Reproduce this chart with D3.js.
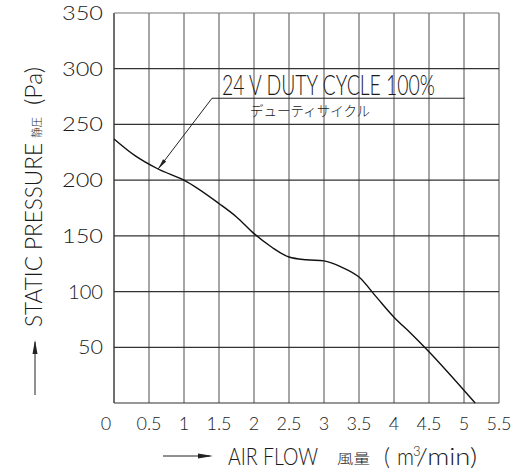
<!DOCTYPE html>
<html>
<head>
<meta charset="utf-8">
<script src="https://cdn.jsdelivr.net/npm/d3@7"></script>
<style>
  body { margin: 0; background: #fff; }
  svg { display: block; }
  text { font-family: "Lato", "DejaVu Sans Condensed", sans-serif; font-weight: 300; fill: #1a1a1a; }
  .jp { font-family: "Noto Sans CJK JP", sans-serif; font-weight: 300; }
</style>
</head>
<body>
<svg id="chart" width="517" height="469"></svg>
<script>
(function () {
    'use strict';

    // fan curve
    const flow = [0, 0.3, 0.63, 1, 1.5, 1.75, 2, 2.25, 2.5, 2.75, 3, 3.25, 3.5, 3.75, 4, 4.25, 4.5, 4.75, 5.16];
    const pressure = [237, 222, 210, 200, 179, 167, 152, 140, 131, 128.5, 127.5, 122, 113, 95, 77, 62, 46, 29, 0];

    const xTicks = [0, 0.5, 1, 1.5, 2, 2.5, 3, 3.5, 4, 4.5, 5, 5.5];
    const yTicks = [50, 100, 150, 200, 250, 300, 350];

    // annotation: arrow tip on curve, knee of leader, end of underline
    const noteFlow = [0.63, 1.4, 5.01];
    const notePressure = [210, 273.5];

    const svg = d3.select('#chart');
    const x = d3.scaleLinear().domain([0, 5.5]).range([114, 499]);
    const y = d3.scaleLinear().domain([0, 350]).range([403, 13]);

    // grid
    const grid = svg.append("g");
    grid.selectAll("line.v")
        .data(xTicks)
        .join("line")
        .attr("x1", d => x(d)).attr("x2", d => x(d))
        .attr("y1", y(0)).attr("y2", y(350))
        .attr("stroke", d => d === 0 ? "#333" : "#808080")
        .attr("stroke-width", 1.4);
    grid.selectAll("line.h")
        .data([0].concat(yTicks))
        .join("line")
        .attr("class", "h")
        .attr("x1", x(0)).attr("x2", x(5.5))
        .attr("y1", d => y(d)).attr("y2", d => y(d))
        .attr("stroke", d => d === 350 ? "#777" : "#333")
        .attr("stroke-width", 1.2);

    // tick labels
    svg.append("g").selectAll("text")
        .data(yTicks)
        .join("text")
        .attr("x", 103)
        .attr("y", d => y(d) + 7)
        .attr("text-anchor", "end")
        .attr("font-size", 19)
        .attr("textLength", d => d < 100 ? 25 : (d === 100 ? 35 : 41))
        .attr("lengthAdjust", "spacingAndGlyphs")
        .text(d => d);

    svg.append("g").selectAll("text")
        .data(xTicks)
        .join("text")
        .attr("x", d => x(d) - (d === 0 ? 8 : 0))
        .attr("y", 430)
        .attr("text-anchor", "middle")
        .attr("font-size", 18)
        .text(d => String(d));

    // curve
    const line = d3.line()
        .x((d, i) => x(flow[i]))
        .y(d => y(d))
        .curve(d3.curveMonotoneX);
    svg.append("path")
        .datum(pressure)
        .attr("d", line)
        .attr("fill", "none")
        .attr("stroke", "#111")
        .attr("stroke-width", 1.4);

    // annotation
    const tipX = x(noteFlow[0]), tipY = y(notePressure[0]);
    const kneeX = x(noteFlow[1]), kneeY = y(notePressure[1]);
    svg.append("path")
        .attr("d", `M${x(noteFlow[2])},${kneeY}H${kneeX}L${tipX},${tipY}`)
        .attr("fill", "none")
        .attr("stroke", "#222")
        .attr("stroke-width", 1);
    const ang = Math.atan2(kneeY - tipY, kneeX - tipX);
    const ah = 11, aw = 0.18;
    svg.append("path")
        .attr("d", `M${tipX},${tipY}L${tipX + ah * Math.cos(ang - aw)},${tipY + ah * Math.sin(ang - aw)}L${tipX + ah * Math.cos(ang + aw)},${tipY + ah * Math.sin(ang + aw)}Z`)
        .attr("fill", "#222");

    svg.append("text")
        .attr("x", 222).attr("y", kneeY - 3)
        .attr("font-size", 27)
        .attr("textLength", 213)
        .attr("lengthAdjust", "spacingAndGlyphs")
        .text("24 V DUTY CYCLE 100%");
    svg.append("text")
        .attr("class", "jp")
        .attr("x", 250).attr("y", 116)
        .attr("font-size", 14)
        .attr("textLength", 120)
        .attr("lengthAdjust", "spacingAndGlyphs")
        .text("デューティサイクル");

    // y title
    const yt = svg.append("g").attr("transform", "translate(42,0) rotate(-90)");
    yt.append("text")
        .attr("x", -327).attr("y", 0)
        .attr("font-size", 23)
        .attr("textLength", 184)
        .attr("lengthAdjust", "spacingAndGlyphs")
        .text("STATIC PRESSURE");
    yt.append("text")
        .attr("class", "jp")
        .attr("x", -138).attr("y", -1)
        .attr("font-size", 11)
        .attr("textLength", 21)
        .attr("lengthAdjust", "spacingAndGlyphs")
        .text("静圧");
    yt.append("text")
        .attr("x", -105).attr("y", 0)
        .attr("font-size", 23)
        .attr("textLength", 38)
        .attr("lengthAdjust", "spacingAndGlyphs")
        .text("(Pa)");

    // y arrow
    svg.append("line")
        .attr("x1", 35).attr("x2", 35).attr("y1", 395).attr("y2", 342)
        .attr("stroke", "#222").attr("stroke-width", 1);
    svg.append("path")
        .attr("d", "M35,340L32.5,354L37.5,354Z")
        .attr("fill", "#222");

    // x title
    svg.append("line")
        .attr("x1", 163).attr("x2", 210).attr("y1", 456).attr("y2", 456)
        .attr("stroke", "#222").attr("stroke-width", 1);
    svg.append("path")
        .attr("d", "M213,456L198,453.5L198,458.5Z")
        .attr("fill", "#222");
    svg.append("text")
        .attr("x", 228).attr("y", 465)
        .attr("font-size", 23)
        .attr("textLength", 90)
        .attr("lengthAdjust", "spacingAndGlyphs")
        .text("AIR FLOW");
    svg.append("text")
        .attr("class", "jp")
        .attr("x", 337).attr("y", 463)
        .attr("font-size", 13)
        .attr("textLength", 33)
        .attr("lengthAdjust", "spacingAndGlyphs")
        .text("風量");
    svg.append("text")
        .attr("x", 384).attr("y", 465)
        .attr("font-size", 23)
        .text("(");
    svg.append("text")
        .attr("x", 397).attr("y", 465)
        .attr("font-size", 23)
        .attr("textLength", 17)
        .attr("lengthAdjust", "spacingAndGlyphs")
        .text("m");
    svg.append("text")
        .attr("x", 413).attr("y", 456)
        .attr("font-size", 13)
        .text("3");
    svg.append("text")
        .attr("x", 416).attr("y", 465)
        .attr("font-size", 23)
        .attr("textLength", 61)
        .attr("lengthAdjust", "spacingAndGlyphs")
        .text("/min)");
}());
</script>
</body>
</html>
